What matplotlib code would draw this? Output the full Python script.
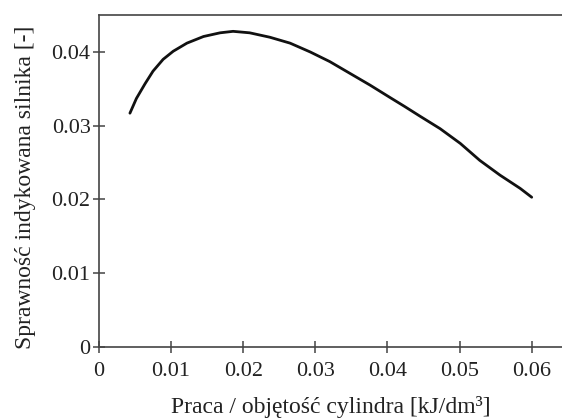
import numpy as np
import matplotlib.pyplot as plt

plt.rcParams['font.family'] = ['Liberation Serif', 'DejaVu Serif']

# praca / objetosc cylindra [kJ/dm3]
work = [0.0043, 0.0052, 0.0064, 0.0075, 0.0089, 0.0103, 0.0122, 0.0145,
        0.0168, 0.0186, 0.0209, 0.0237, 0.0265, 0.0293, 0.0320, 0.0348,
        0.0376, 0.0404, 0.0424, 0.0445, 0.0473, 0.0501, 0.0528, 0.0556,
        0.0584, 0.0600]
# sprawnosc indykowana [-]
eff = [0.0317, 0.0337, 0.0357, 0.0374, 0.0390, 0.0401, 0.0412, 0.0421,
       0.0426, 0.0428, 0.0426, 0.0420, 0.0412, 0.0400, 0.0387, 0.0371,
       0.0355, 0.0338, 0.0326, 0.0313, 0.0296, 0.0276, 0.0253, 0.0233,
       0.0215, 0.0203]

xticks = [0, 0.01, 0.02, 0.03, 0.04, 0.05, 0.06]
xtick_labels = ['0', '0.01', '0.02', '0.03', '0.04', '0.05', '0.06']
yticks = [0, 0.01, 0.02, 0.03, 0.04]
ytick_labels = ['0', '0.01', '0.02', '0.03', '0.04']

fig = plt.figure(figsize=(5.62, 4.2), dpi=100)
ax = fig.add_axes([0.176, 0.174, 0.824, 0.79])

ax.plot(work, eff, color='#111111', linewidth=2.0, solid_capstyle='round',
        solid_joinstyle='round')

ax.set_xlim(0, 0.0642)
ax.set_ylim(0, 0.045)
ax.set_xticks(xticks)
ax.set_xticklabels(xtick_labels)
ax.set_yticks(yticks)
ax.set_yticklabels(ytick_labels)
ax.tick_params(direction='inout', length=8, width=1.1, color='#444444',
               labelsize=16, labelcolor='#222222')
ax.tick_params(axis='x', pad=7)
ax.tick_params(axis='y', pad=2)

for s in ['left', 'bottom', 'top']:
    ax.spines[s].set_color('#444444')
    ax.spines[s].set_linewidth(1.2)
ax.spines['right'].set_visible(False)

ax.set_xlabel('Praca / objętość cylindra [kJ/dm³]', fontsize=17, labelpad=11,
              color='#222222')
ax.set_ylabel('Sprawność indykowana silnika [-]', fontsize=17,
              color='#222222')
ax.yaxis.set_label_coords(-0.135, 0.48)

fig.savefig('out.png', dpi=100)
